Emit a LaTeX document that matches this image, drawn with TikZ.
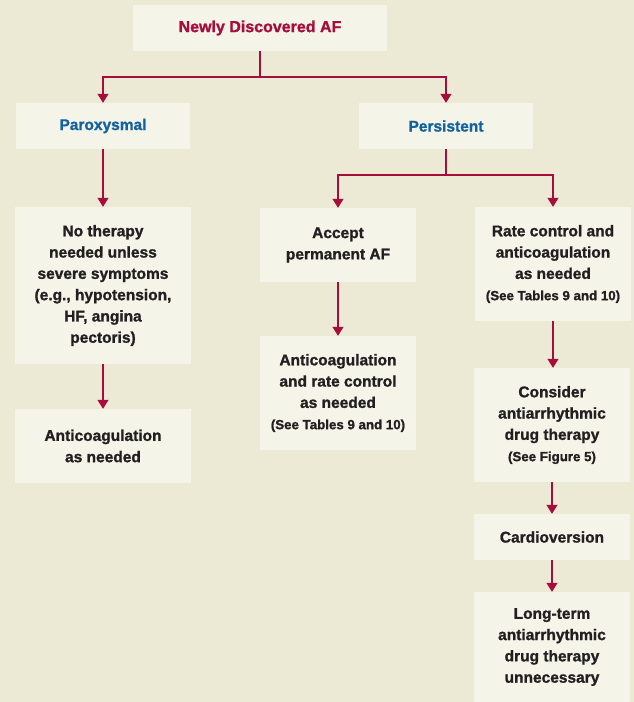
\documentclass[tikz,border=0pt]{standalone}
\usepackage{fontspec}
\setmainfont{Liberation Sans}[BoldFeatures={FakeBold=1.2}]
\usetikzlibrary{arrows.meta}
\definecolor{pagebg}{RGB}{236,233,212}
\definecolor{boxbg}{RGB}{245,244,233}
\definecolor{flowred}{RGB}{166,12,60}
\definecolor{headblue}{RGB}{18,98,160}
\definecolor{bodytext}{RGB}{35,31,32}
\newcommand{\refnote}[1]{{\fontsize{13.3}{21}\selectfont #1}}
\begin{document}
\begin{tikzpicture}[x=1pt,y=-1pt,
  stepbox/.style={fill=boxbg,draw=none,inner sep=0pt,align=center,
    text=bodytext,font=\bfseries\fontsize{15.5}{21.3}\selectfont},
  headbox/.style={stepbox,text=headblue},
  titlebox/.style={stepbox,text=flowred,font=\bfseries\fontsize{16}{21.3}\selectfont},
  link/.style={draw=flowred,line width=1.1pt},
  flow/.style={link,-{Triangle[width=11pt,length=9pt]}}]
  % page background and extent
  \fill[pagebg] (0,0) rectangle (634,702);
  \useasboundingbox (0,0) rectangle (634,702);

  % boxes
  \node[titlebox,minimum width=254pt,minimum height=46pt] (top) at (260,28) {Newly Discovered AF};
  \node[headbox,minimum width=174pt,minimum height=46pt] (parox) at (103,126) {Paroxysmal};
  \node[headbox,minimum width=174pt,minimum height=46pt] (persist) at (446,126) {Persistent};
  \node[stepbox,minimum width=176pt,minimum height=157pt] (nother) at (103,285.5)
    {No therapy\\needed unless\\severe symptoms\\(e.g., hypotension,\\HF, angina\\pectoris)};
  \node[stepbox,minimum width=176pt,minimum height=74pt] (anti1) at (103,446)
    {Anticoagulation\\as needed};
  \node[stepbox,minimum width=156pt,minimum height=74pt] (accept) at (338,245)
    {Accept\\permanent AF};
  \node[stepbox,minimum width=156pt,minimum height=114pt] (anti2) at (338,393)
    {Anticoagulation\\and rate control\\as needed\\\refnote{(See Tables 9 and 10)}};
  \node[stepbox,minimum width=156pt,minimum height=114pt] (rate) at (553,264)
    {Rate control and\\anticoagulation\\as needed\\\refnote{(See Tables 9 and 10)}};
  \node[stepbox,minimum width=156pt,minimum height=114pt] (consider) at (552,425)
    {Consider\\antiarrhythmic\\drug therapy\\\refnote{(See Figure 5)}};
  \node[stepbox,minimum width=156pt,minimum height=46pt] (cardio) at (552,537)
    {Cardioversion};
  \node[stepbox,minimum width=156pt,minimum height=110pt] (longterm) at (552,647)
    {Long-term\\antiarrhythmic\\drug therapy\\unnecessary};

  % branch points
  \coordinate (split1) at (260,77);
  \coordinate (split2) at (446,175);

  % connectors
  \draw[link] (top.south) -- (split1);
  \draw[flow] (split1) -| (parox.north);
  \draw[flow] (split1) -| (persist.north);
  \draw[flow] (parox.south) -- (nother.north);
  \draw[flow] (nother.south) -- (anti1.north);
  \draw[link] (persist.south) -- (split2);
  \draw[flow] (split2) -| (accept.north);
  \draw[flow] (split2) -| (rate.north);
  \draw[flow] (accept.south) -- (anti2.north);
  \draw[flow] (rate.south) -- (rate.south |- consider.north);
  \draw[flow] (consider.south) -- (cardio.north);
  \draw[flow] (cardio.south) -- (longterm.north);
\end{tikzpicture}
\end{document}
